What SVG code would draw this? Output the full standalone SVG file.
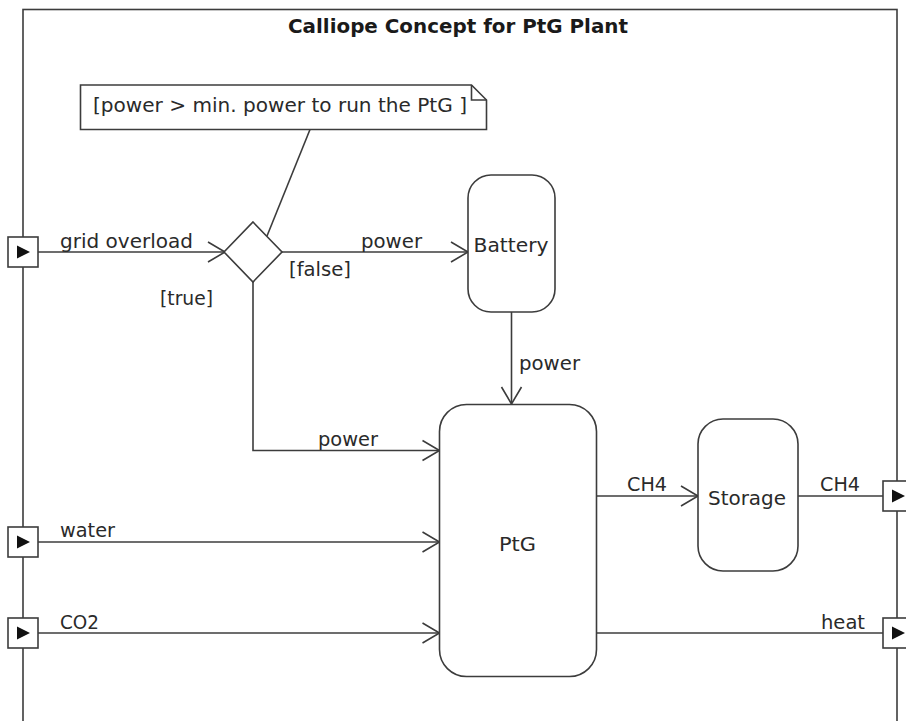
<svg xmlns="http://www.w3.org/2000/svg" width="906" height="721" viewBox="0 0 906 721">
<defs>
<style>
.ln{fill:none;stroke:#3c3c3c;stroke-width:1.6}
.nd{fill:#fff;stroke:#3c3c3c;stroke-width:1.6}
.t{font-family:"DejaVu Sans","Liberation Sans",sans-serif;font-size:20px;fill:#2a2a2a}
.ti{font-family:"DejaVu Sans","Liberation Sans",sans-serif;font-size:20px;font-weight:bold;fill:#1a1a1a}
.tri{fill:#111}
</style>
<marker id="arr" markerUnits="userSpaceOnUse" markerWidth="22" markerHeight="24" viewBox="-19 -12 22 24" refX="0" refY="0" orient="auto">
<path d="M-17,-10 L0,0 L-17,10" fill="none" stroke="#3c3c3c" stroke-width="1.6"/>
</marker>
</defs>
<rect width="906" height="721" fill="#fff"/>
<g id="frame">
<rect x="23" y="9.5" width="874" height="740" class="ln"/>
<text x="458" y="33" class="ti" text-anchor="middle" textLength="340" lengthAdjust="spacingAndGlyphs">Calliope Concept for PtG Plant</text>
</g>
<g id="connectors">
<path class="ln" d="M38,252 H225" marker-end="url(#arr)"/>
<path class="ln" d="M282,252 H468" marker-end="url(#arr)"/>
<path class="ln" d="M253,282 V450.5 H439.5" marker-end="url(#arr)"/>
<path class="ln" d="M511.5,312 V404" marker-end="url(#arr)"/>
<path class="ln" d="M38,542 H439.5" marker-end="url(#arr)"/>
<path class="ln" d="M38,633 H439.5" marker-end="url(#arr)"/>
<path class="ln" d="M596.5,496 H698" marker-end="url(#arr)"/>
<path class="ln" d="M798,496 H883"/>
<path class="ln" d="M596.5,633 H883"/>
<path class="ln" d="M310,129.5 L267,236"/>
<text x="60" y="248" class="t" textLength="133" lengthAdjust="spacingAndGlyphs">grid overload</text>
<text x="361" y="248" class="t" textLength="61" lengthAdjust="spacingAndGlyphs">power</text>
<text x="289" y="276" class="t" textLength="62" lengthAdjust="spacingAndGlyphs">[false]</text>
<text x="160" y="305" class="t" textLength="53" lengthAdjust="spacingAndGlyphs">[true]</text>
<text x="519" y="370" class="t" textLength="61" lengthAdjust="spacingAndGlyphs">power</text>
<text x="318" y="446" class="t" textLength="60" lengthAdjust="spacingAndGlyphs">power</text>
<text x="60" y="537" class="t" textLength="55" lengthAdjust="spacingAndGlyphs">water</text>
<text x="60" y="629" class="t" textLength="39" lengthAdjust="spacingAndGlyphs">CO2</text>
<text x="627" y="491" class="t" textLength="40" lengthAdjust="spacingAndGlyphs">CH4</text>
<text x="820" y="491" class="t" textLength="40" lengthAdjust="spacingAndGlyphs">CH4</text>
<text x="821" y="629" class="t" textLength="44" lengthAdjust="spacingAndGlyphs">heat</text>
</g>
<g id="note">
<path class="nd" d="M80.5,85 H471.5 L486.5,100 V129.5 H80.5 Z"/>
<path class="ln" d="M471.5,85 V100 H486.5"/>
<text x="93" y="112" class="t" textLength="374" lengthAdjust="spacingAndGlyphs">[power &gt; min. power to run the PtG ]</text>
</g>
<g id="decision">
<path class="nd" d="M253,222 L282,252 L253,282 L224,252 Z"/>
</g>
<g id="battery">
<rect x="468" y="175" width="87" height="137" rx="23" class="nd"/>
<text x="511" y="252" class="t" text-anchor="middle" textLength="75" lengthAdjust="spacingAndGlyphs">Battery</text>
</g>
<g id="ptg">
<rect x="439.5" y="404.5" width="157" height="272" rx="27" class="nd"/>
<text x="517.5" y="551" class="t" text-anchor="middle" textLength="37" lengthAdjust="spacingAndGlyphs">PtG</text>
</g>
<g id="storage">
<rect x="698" y="419" width="100" height="152" rx="25" class="nd"/>
<text x="747" y="505" class="t" text-anchor="middle" textLength="78" lengthAdjust="spacingAndGlyphs">Storage</text>
</g>
<g id="port-grid">
<rect x="8" y="237" width="30" height="30" class="nd"/>
<path class="tri" d="M17,245.5 L30,252 L17,258.5 Z"/>
</g>
<g id="port-water">
<rect x="8" y="527" width="30" height="30" class="nd"/>
<path class="tri" d="M17,535.5 L30,542 L17,548.5 Z"/>
</g>
<g id="port-co2">
<rect x="8" y="618" width="30" height="30" class="nd"/>
<path class="tri" d="M17,626.5 L30,633 L17,639.5 Z"/>
</g>
<g id="port-ch4">
<rect x="883" y="481" width="30" height="30" class="nd"/>
<path class="tri" d="M892,489.5 L905,496 L892,502.5 Z"/>
</g>
<g id="port-heat">
<rect x="883" y="618" width="30" height="30" class="nd"/>
<path class="tri" d="M892,626.5 L905,633 L892,639.5 Z"/>
</g>
</svg>
